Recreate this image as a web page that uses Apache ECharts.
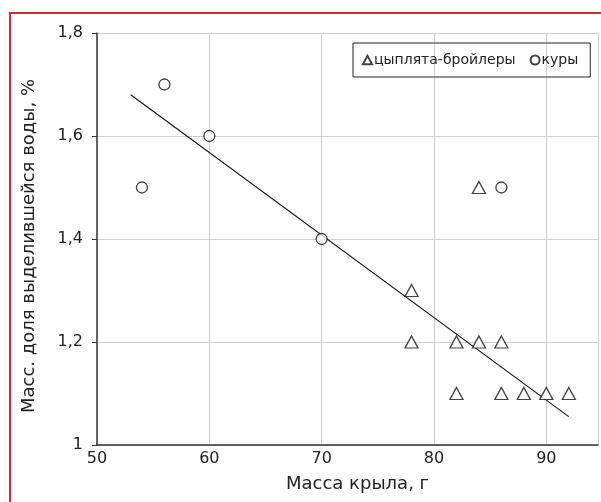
<!DOCTYPE html>
<html>
<head>
<meta charset="utf-8">
<script src="https://cdn.jsdelivr.net/npm/echarts@6/dist/echarts.min.js"></script>
<style>
  html, body { margin: 0; padding: 0; background: #fff; overflow: hidden; }
  #frame { position: absolute; left: 9px; top: 12px; width: 700px; height: 600px; border: 2px solid #d42a30; }
  #chart { position: absolute; left: 0; top: 0; width: 601px; height: 502px; }
</style>
</head>
<body>
<div id="frame"></div>
<div id="chart"></div>
<script>
// ===== Data =====
const seriesNames = ['цыплята-бройлеры', 'куры'];

// broilers: [mass of wing, g ; water share, %]
const broilers = [
  [78, 1.3], [78, 1.2], [82, 1.2], [84, 1.2], [86, 1.2],
  [82, 1.1], [86, 1.1], [88, 1.1], [90, 1.1], [92, 1.1],
  [84, 1.5]
];
const hens = [[54, 1.5], [56, 1.7], [60, 1.6], [70, 1.4], [86, 1.5]];
const trend = [[53, 1.68], [92, 1.055]];

const xTicks = [50, 60, 70, 80, 90];
const yTicks = ['1', '1,2', '1,4', '1,6', '1,8'];

const FONT = '"DejaVu Sans", "Liberation Sans", sans-serif';
const triangle = 'path://M6,0 L12,11 L0,11 Z';

// ===== Chart =====
const chart = echarts.init(document.getElementById('chart'), null, { renderer: 'canvas' });

chart.setOption({
  animation: false,
  textStyle: { fontFamily: FONT },
  grid: { left: 97, top: 33, right: 0, bottom: 57, containLabel: false },
  legend: {
    data: seriesNames,
    left: 353, top: 43,
    width: 240,
    padding: [10, 12, 10, 9],
    borderColor: '#222', borderWidth: 1,
    itemWidth: 9, itemHeight: 9, itemGap: 14,
    textStyle: { fontSize: 14, color: '#222', fontFamily: FONT, padding: [0, 0, 0, -3] }
  },
  xAxis: {
    type: 'value',
    min: 50, max: 94.6, interval: 10,
    name: 'Масса крыла, г',
    nameLocation: 'middle',
    nameGap: 30,
    nameTextStyle: { fontSize: 18, color: '#222', padding: [0, 0, 0, 20] },
    axisLine: { lineStyle: { color: '#333', width: 1.5 } },
    axisTick: { show: false },
    axisLabel: { fontSize: 16, color: '#222', margin: 6,
      formatter: v => xTicks.includes(v) ? String(v) : '' },
    splitLine: { lineStyle: { color: '#cfcfcf', width: 1 } }
  },
  yAxis: {
    type: 'value',
    min: 1, max: 1.8, interval: 0.2,
    name: 'Масс. доля выделившейся воды, %',
    nameLocation: 'middle',
    nameGap: 59,
    nameTextStyle: { fontSize: 18, color: '#222', padding: [0, 14, 0, 0] },
    axisLine: { show: true, lineStyle: { color: '#333', width: 1.5 } },
    axisTick: { show: true, length: 5, lineStyle: { color: '#333' } },
    axisLabel: { fontSize: 16, color: '#222', margin: 14,
      formatter: v => yTicks[Math.round((v - 1) / 0.2)] },
    splitLine: { lineStyle: { color: '#cfcfcf', width: 1 } }
  },
  series: [
    {
      name: seriesNames[0], type: 'scatter', data: broilers,
      symbol: triangle, symbolSize: [13, 12],
      itemStyle: { color: '#fff', borderColor: '#111', borderWidth: 1.3 }
    },
    {
      name: seriesNames[1], type: 'scatter', data: hens,
      symbol: 'circle', symbolSize: 11,
      itemStyle: { color: '#fff', borderColor: '#111', borderWidth: 1.3 }
    },
    {
      name: 'trend', type: 'line', data: trend,
      symbol: 'none', silent: true, z: 1,
      lineStyle: { color: '#111', width: 1.1 }
    }
  ]
});
</script>
</body>
</html>
